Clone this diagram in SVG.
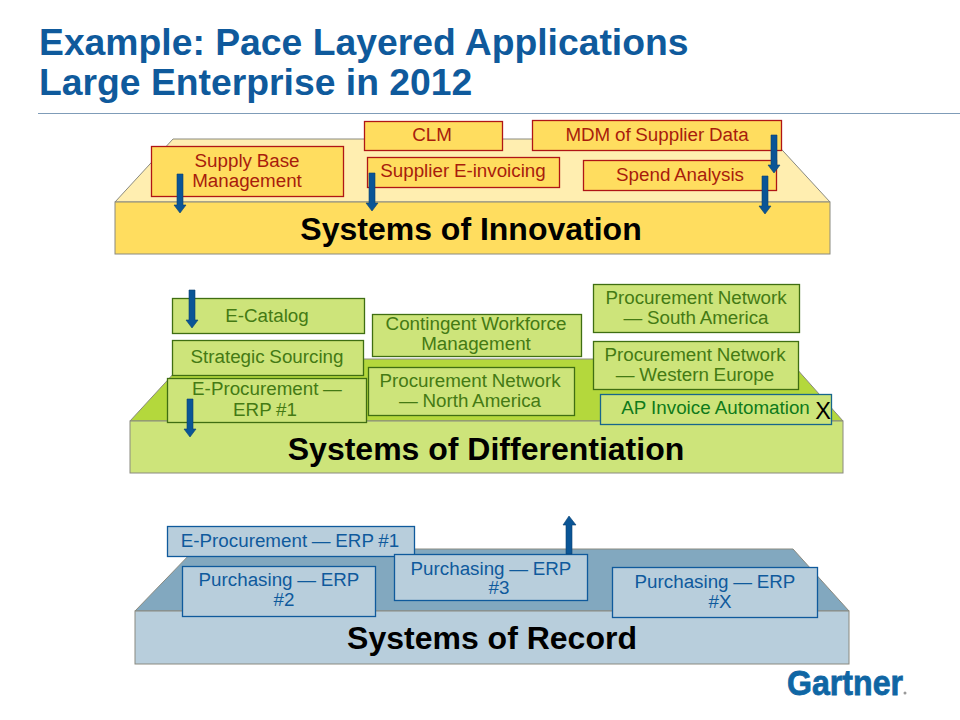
<svg xmlns="http://www.w3.org/2000/svg" width="960" height="720" viewBox="0 0 960 720">
<style>
text{font-family:"Liberation Sans",Arial,sans-serif;text-anchor:middle}
.title{font-size:37.300px;font-weight:bold;fill:#0f5a9c;text-anchor:start}
.layer{font-size:32px;font-weight:bold;fill:#000}
.s{stroke:#8a8a80;stroke-width:1}
.y{fill:#ffdd5f;stroke:#b01515;stroke-width:1.3}
.yt{fill:#a81c0c;font-size:18.800px;word-spacing:-.5px}
.g{fill:#cde47a;stroke:#3f6e12;stroke-width:1.3}
.gt{fill:#447a14;font-size:18.800px;word-spacing:-.5px}
.b{fill:#b8cedc;stroke:#0f5a9c;stroke-width:1.3}
.bt{fill:#0f5a9c;font-size:18.800px;word-spacing:-.5px}
.ar{fill:#0a5596;stroke:#0a3f70;stroke-width:.6}
</style>
<rect width="960" height="720" fill="#fff"/>
<g id="title">
<text class="title" x="39" y="55">Example: Pace Layered Applications</text>
<text class="title" x="39" y="95">Large Enterprise in 2012</text>
<line x1="38" y1="113.500" x2="960" y2="113.500" stroke="#7f9cb8" stroke-width="1"/>
</g>
<g id="layer-innovation">
<polygon class="s" points="115,202 173,139 772,139 830,202" fill="#ffeeb0"/>
<rect class="s" x="115" y="202" width="715" height="52" fill="#ffdd5f"/>
<text class="layer" x="471" y="240">Systems of Innovation</text>
</g>
<g id="layer-differentiation">
<polygon class="s" points="130,421 187,359 788,359 843,421" fill="#b4d83c"/>
<rect class="s" x="130" y="421" width="713" height="52" fill="#cde47a"/>
<text class="layer" x="486" y="460">Systems of Differentiation</text>
</g>
<g id="layer-record">
<polygon class="s" points="135,611 195,549 793,549 849,611" fill="#82a8bf"/>
<rect class="s" x="135" y="611" width="714" height="53" fill="#b8cedc"/>
<text class="layer" x="492" y="649">Systems of Record</text>
</g>
<g id="supply-base"><rect class="y" x="151.500" y="146.500" width="192" height="50"/><text class="yt" x="247" y="167">Supply Base</text><text class="yt" x="247" y="187">Management</text></g>
<g id="clm"><rect class="y" x="364.500" y="121.500" width="138" height="29"/><text class="yt" x="432" y="141">CLM</text></g>
<g id="supplier-einvoicing"><rect class="y" x="367.500" y="157.500" width="192" height="30"/><text class="yt" x="463" y="177">Supplier E-invoicing</text></g>
<g id="mdm"><rect class="y" x="532.500" y="120.500" width="249" height="30"/><text class="yt" x="657" y="141">MDM of Supplier Data</text></g>
<g id="spend"><rect class="y" x="583.500" y="160.500" width="193" height="30"/><text class="yt" x="680" y="181">Spend Analysis</text></g>
<g id="e-catalog"><rect class="g" x="172.500" y="298.500" width="192" height="35"/><text class="gt" x="267" y="322">E-Catalog</text></g>
<g id="strategic-sourcing"><rect class="g" x="172.500" y="340.500" width="191" height="35"/><text class="gt" x="267" y="363">Strategic Sourcing</text></g>
<g id="e-procurement-1"><rect class="g" x="167.500" y="378.500" width="199" height="44"/><text class="gt" x="267" y="395">E-Procurement —</text><text class="gt" x="265" y="416">ERP #1</text></g>
<g id="contingent"><rect class="g" x="372.500" y="314.500" width="209" height="42"/><text class="gt" x="476" y="330">Contingent Workforce</text><text class="gt" x="476" y="350">Management</text></g>
<g id="pn-north"><rect class="g" x="368.500" y="367.500" width="206" height="48"/><text class="gt" x="470" y="387">Procurement Network</text><text class="gt" x="470" y="407">— North America</text></g>
<g id="pn-south"><rect class="g" x="593.500" y="284.500" width="206" height="48"/><text class="gt" x="696" y="304">Procurement Network</text><text class="gt" x="696" y="324">— South America</text></g>
<g id="pn-west"><rect class="g" x="593.500" y="341.500" width="205" height="48"/><text class="gt" x="695" y="361">Procurement Network</text><text class="gt" x="695" y="381">— Western Europe</text></g>
<g id="ap-invoice"><rect x="600.500" y="394.500" width="231" height="30" fill="#cde47a" stroke="#17668c" stroke-width="1.300"/><text x="715.500" y="414" font-size="18.800" fill="#0f7a1a">AP Invoice Automation</text><text x="823" y="419" font-size="23.500" fill="#000">X</text></g>
<g id="e-procurement-rec"><rect class="b" x="167.500" y="526.500" width="247" height="30"/><text class="bt" x="290" y="547">E-Procurement — ERP #1</text></g>
<g id="purchasing-2"><rect class="b" x="182.500" y="566.500" width="193" height="50"/><text class="bt" x="279" y="586">Purchasing — ERP</text><text class="bt" x="284" y="606">#2</text></g>
<g id="purchasing-3"><rect class="b" x="394.500" y="554.500" width="193" height="46"/><text class="bt" x="491" y="575">Purchasing — ERP</text><text class="bt" x="499" y="594">#3</text></g>
<g id="purchasing-x"><rect class="b" x="612.500" y="567.500" width="205" height="50"/><text class="bt" x="715" y="588">Purchasing — ERP</text><text class="bt" x="720" y="608">#X</text></g>
<g id="connectors">
<polygon class="ar" points="177,174 183,174 183,205 186,205 180,213 174,205 177,205"/>
<polygon class="ar" points="369,173 375,173 375,203 378,203 372,211 366,203 369,203"/>
<polygon class="ar" points="771,135 777,135 777,165 780,165 774,173 768,165 771,165"/>
<polygon class="ar" points="762,176 768,176 768,206 771,206 765,214 759,206 762,206"/>
<polygon class="ar" points="189,290 195,290 195,320 198,320 192,328 186,320 189,320"/>
<polygon class="ar" points="187,399 193,399 193,429 196,429 190,437 184,429 187,429"/>
<polygon class="ar" points="566,554 572,554 572,525 576,525 569,516 563,525 566,525"/>
</g>
<g id="logo"><text x="787" y="695" font-size="35" font-weight="bold" fill="#0f66a4" stroke="#0f66a4" stroke-width=".8" style="text-anchor:start" textLength="116" lengthAdjust="spacingAndGlyphs">Gartner</text><circle cx="905" cy="693" r="1.500" fill="#9a9a9a"/></g>
</svg>
